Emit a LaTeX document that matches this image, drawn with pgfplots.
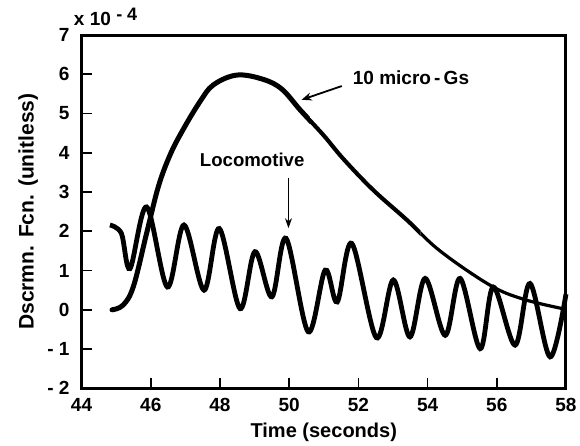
\documentclass[border=0pt]{standalone}
\usepackage{pgfplots}
\pgfplotsset{compat=1.18}
\usepackage{fontspec}
\setmainfont{Liberation Sans}
\usetikzlibrary{arrows.meta}
\pgfplotstableread{
x y
44.88 0.0
45.2 0.12
45.5 0.6
45.88 1.95
46.22 3.14
46.56 3.95
46.94 4.6
47.42 5.3
47.81 5.73
48.49 5.98
49.25 5.87
49.79 5.62
50.32 5.09
50.99 4.45
51.57 3.84
52.43 3.05
53.4 2.29
54.36 1.5
55.8 0.63
56.77 0.27
57.9 0.03
}\microgs
\begin{document}
\begin{tikzpicture}
\begin{axis}[
  scale only axis, width=242pt, height=176.5pt,
  xmin=44, xmax=58, ymin=-2, ymax=7,
  xtick={44,46,...,58}, ytick={-2,-1,...,7},
  yticklabels={- 2,- 1,0,1,2,3,4,5,6,7},
  tick pos=left, tick align=inside, major tick length=5pt,
  axis line style={line width=1.5pt},
  every tick/.style={line width=0.8pt, black},
  tick label style={font=\fontsize{9.5}{10}\selectfont\bfseries},
  xticklabel style={yshift=-1.5pt},
  yticklabel style={xshift=-2.5pt},
  /pgf/number format/assume math mode=true,
  xlabel={Time (seconds)}, ylabel={Dscrmn. Fcn. (unitless)},
  every axis x label/.style={at={(axis description cs:0.5,-0.125)}, anchor=center,
    font=\fontsize{10}{12}\selectfont\bfseries},
  every axis y label/.style={at={(axis description cs:-0.11,0.5)}, anchor=center, rotate=90,
    font=\fontsize{10.5}{12}\selectfont\bfseries},
  clip=false,
]
\coordinate (ll) at (rel axis cs:0,0);
\coordinate (ur) at (rel axis cs:1,1);
% 10 micro-Gs: same curve, drawn thinner towards the right
\begin{scope}
\clip (axis cs:43,-3) rectangle (axis cs:50.6,8);
\addplot[black, line width=2.5pt, line cap=round, smooth, tension=0.6] table {\microgs};
\end{scope}
\begin{scope}
\clip (axis cs:50.6,-3) rectangle (axis cs:53.8,8);
\addplot[black, line width=2.05pt, smooth, tension=0.6] table {\microgs};
\end{scope}
\begin{scope}
\clip (axis cs:53.8,-3) rectangle (axis cs:59,8);
\addplot[black, line width=1.6pt, line cap=round, smooth, tension=0.6] table {\microgs};
\end{scope}
% Locomotive
\addplot[black, line width=2.4pt, smooth, tension=0.55] coordinates {
  (44.82,2.16) (45.15,1.95) (45.4,1.05) (45.88,2.62) (46.48,0.58)
  (46.96,2.16) (47.54,0.5) (47.98,2.07) (48.58,0.03) (49.01,1.48)
  (49.5,0.33) (49.91,1.82) (50.55,-0.56) (51.04,1.01) (51.39,0.2)
  (51.81,1.69) (52.52,-0.71) (53.01,0.76) (53.49,-0.69) (53.93,0.8)
  (54.51,-0.65) (54.94,0.8) (55.52,-0.99) (55.9,0.58) (56.53,-0.9)
  (56.96,0.67) (57.54,-1.2) (58.0,0.4)
};
\node[anchor=base west, inner sep=0pt, font=\fontsize{9.5}{10}\selectfont\bfseries]
  at ([xshift=-4pt,yshift=5pt]rel axis cs:0,1) {x 10\ \raisebox{2.5pt}{\fontsize{9}{9}\selectfont - 4}};
\node[font=\fontsize{9.5}{10}\selectfont\bfseries] at (axis cs:53.52,5.91) {10 micro\,-\,Gs};
\draw[-{Stealth[length=5pt,width=4pt]}, line width=0.9pt] (axis cs:51.52,5.70) -- (axis cs:50.36,5.35);
\node[font=\fontsize{9.3}{10}\selectfont\bfseries] at (axis cs:48.93,3.82) {Locomotive};
\draw[-{Stealth[length=5pt,width=3.5pt]}, line width=0.6pt] (axis cs:49.98,3.36) -- (axis cs:49.98,2.08);
\end{axis}
\pgfresetboundingbox
\path ([shift={(-40.75pt,-28.5pt)}]ll) rectangle ([shift={(7pt,17.5pt)}]ur);
\end{tikzpicture}
\end{document}
